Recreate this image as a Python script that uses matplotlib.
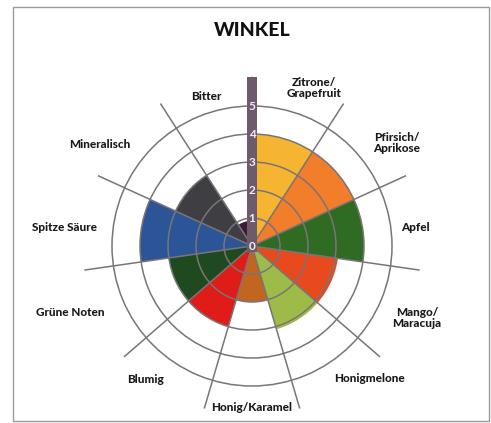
import numpy as np
import matplotlib
matplotlib.use("Agg")
import matplotlib.pyplot as plt
from matplotlib.patches import Rectangle

categories = ["Zitrone/\nGrapefruit", "Pfirsich/\nAprikose", "Apfel", "Mango/\nMaracuja",
              "Honigmelone", "Honig/Karamel", "Blumig", "Grüne Noten", "Spitze Säure",
              "Mineralisch", "Bitter"]
values = [4, 4, 4, 3.1, 3.1, 2, 3, 3, 4, 3, 0.9]
colors = ["#f6b530", "#f27d2b", "#2f6b23", "#e84a1e", "#9dbb48", "#c2651f",
          "#df1c17", "#1f4a1f", "#2b5597", "#3f3f43", "#3b1a3b"]
scale_ticks = [0, 1, 2, 3, 4, 5]
title = "WINKEL"

# label positions (pixels relative to centre)
label_pos = [(62, 158), (145, 103), (163, 19), (165, -72), (117, -132), (0, -161),
             (-107, -133), (-182, -66), (-187, 19), (-152, 102), (-46, 150)]

FONT = "Lato"
W, H = 491, 423
fig = plt.figure(figsize=(W / 100, H / 100), dpi=100)
fig.patch.set_facecolor("white")

# frame
fig.add_artist(Rectangle((13 / W, 1 - 421 / H), (489 - 13) / W, (421 - 7) / H,
                         transform=fig.transFigure, fill=False, edgecolor="#9a9a9a", lw=1.0))

cx, cy = 252, 246
ppu = 28.0  # pixels per unit
rmax = 6.05
R = rmax * ppu
rect = [(cx - R) / W, (H - cy - R) / H, 2 * R / W, 2 * R / H]

ax = fig.add_axes(rect, projection="polar")
ax.set_theta_zero_location("N")
ax.set_theta_direction(-1)
n = len(values)
w = 2 * np.pi / n
theta = np.arange(n) * w + w / 2
ax.bar(theta, values, width=w, color=colors, edgecolor="none", align="center", zorder=1)
ax.set_ylim(0, rmax)
ax.set_yticks([1, 2, 3, 4, 5])
ax.set_yticklabels([])
ax.set_xticks(np.arange(n) * w)
ax.set_xticklabels([])
ax.grid(True, color="#7a7478", lw=1.1)
ax.set_axisbelow(False)
ax.spines["polar"].set_visible(False)
ax.patch.set_alpha(0)

# overlay cartesian axes for scale bar and labels
ax2 = fig.add_axes(rect)
ax2.set_xlim(-rmax, rmax)
ax2.set_ylim(-rmax, rmax)
ax2.axis("off")
ax2.bar([0], [rmax + 0.2], bottom=-0.2, width=0.36, color="#6d5a6c", zorder=5)
for t in scale_ticks:
    ax2.text(0.0, t, str(t), color="#f2eef2", ha="center", va="center",
             fontsize=8.5, family=FONT, fontweight="bold", zorder=6)

for lab, (dx, dy) in zip(categories, label_pos):
    ax2.text(dx / ppu, dy / ppu, lab, ha="center", va="center", fontsize=8.5,
             fontweight="black", family=FONT, color="#1a1a1a", linespacing=0.95,
             clip_on=False, zorder=6)

fig.text(252 / W, 1 - 30 / H, title, ha="center", va="center", fontsize=14,
         fontweight="black", family=FONT, color="#111111")

fig.savefig("out.png", dpi=100)
